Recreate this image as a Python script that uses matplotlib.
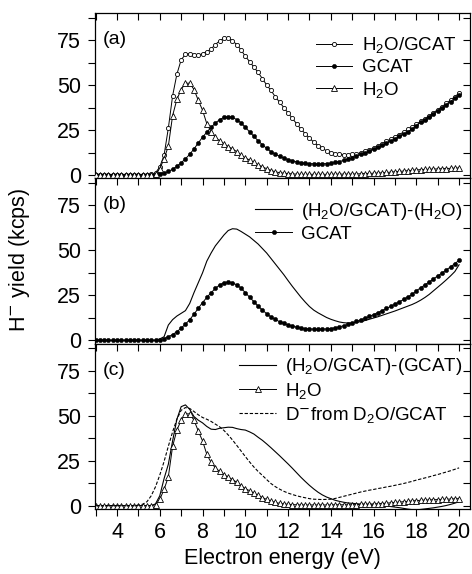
import numpy as np
import matplotlib
matplotlib.use("Agg")
import matplotlib.pyplot as plt
from matplotlib.ticker import MultipleLocator

plt.rcParams['font.family'] = ['Liberation Sans', 'DejaVu Sans']
plt.rcParams['mathtext.fontset'] = 'custom'
plt.rcParams['mathtext.rm'] = 'Liberation Sans'
plt.rcParams['mathtext.it'] = 'Liberation Sans:italic'
plt.rcParams['mathtext.bf'] = 'Liberation Sans:bold'

energy = [3.0, 3.2, 3.4, 3.6, 3.8, 4.0, 4.2, 4.4, 4.6, 4.8,
          5.0, 5.2, 5.4, 5.6, 5.8, 6.0, 6.2, 6.4, 6.6, 6.8,
          7.0, 7.2, 7.4, 7.6, 7.8, 8.0, 8.2, 8.4, 8.6, 8.8,
          9.0, 9.2, 9.4, 9.6, 9.8, 10.0, 10.2, 10.4, 10.6, 10.8,
          11.0, 11.2, 11.4, 11.6, 11.8, 12.0, 12.2, 12.4, 12.6, 12.8,
          13.0, 13.2, 13.4, 13.6, 13.8, 14.0, 14.2, 14.4, 14.6, 14.8,
          15.0, 15.2, 15.4, 15.6, 15.8, 16.0, 16.2, 16.4, 16.6, 16.8,
          17.0, 17.2, 17.4, 17.6, 17.8, 18.0, 18.2, 18.4, 18.6, 18.8,
          19.0, 19.2, 19.4, 19.6, 19.8, 20.0]

h2o_gcat = [0, 0, 0, 0, 0, 0, 0, 0, 0, 0,
            0, 0, 0, 0.3, 1.2, 4.5, 11, 26, 44, 56,
            64, 67, 67.5, 66.8, 66.5, 67.5, 68.5, 70, 72.5, 74.5,
            76, 76, 74.5, 72.5, 69.5, 66, 63, 60, 57, 53.5,
            50, 47, 43.5, 40.5, 37.5, 34.5, 31.5, 28.5, 25.5, 23,
            20.5, 18.3, 16.3, 14.8, 13.5, 12.4, 11.8, 11.4, 11.2, 11.2,
            11.4, 11.8, 12.4, 13.2, 14, 15, 16.2, 17.5, 18.8, 20,
            21.3, 22.5, 23.8, 25.3, 26.8, 28.3, 29.8, 31.3, 33, 34.6,
            36.3, 38, 39.8, 41.6, 43.5, 45.5]

gcat = [0, 0, 0, 0, 0, 0, 0, 0, 0, 0,
        0, 0, 0, 0, 0, 0.4, 1.0, 2.0, 3.2, 4.8,
        6.8, 9.0, 11.5, 14.5, 17.8, 21, 23.8, 26.5, 28.8, 30.8,
        32, 32.4, 32, 30.8, 29, 26.5, 24, 21.5, 19, 16.8,
        14.8, 13, 11.6, 10.4, 9.4, 8.6, 7.9, 7.3, 6.8, 6.5,
        6.3, 6.2, 6.1, 6.2, 6.3, 6.5, 7.0, 7.5, 8.1, 8.8,
        9.6, 10.5, 11.4, 12.3, 13.3, 14.3, 15.4, 16.5, 17.7, 18.9,
        20.1, 21.4, 22.7, 24.1, 25.5, 27.5, 29.2, 30.8, 32.4, 34.1,
        35.8, 37.4, 39.1, 40.8, 42.6, 44.5]

h2o = [0, 0, 0, 0, 0, 0, 0, 0, 0, 0,
       0, 0, 0, 0, 0.5, 3.5, 9, 16, 33, 42,
       47.5, 51, 51, 47.5, 41.5, 36, 28.5, 24, 21, 19,
       17.3, 15.8, 14.5, 13, 11, 9.5, 8.3, 7, 5.7, 4.5,
       3.5, 2.5, 1.8, 1.3, 1.0, 0.8, 0.6, 0.5, 0.4, 0.4,
       0.4, 0.4, 0.4, 0.4, 0.4, 0.4, 0.5, 0.5, 0.5, 0.5,
       0.5, 0.6, 0.7, 0.8, 0.9, 1.0, 1.1, 1.2, 1.4, 1.6,
       1.8, 2.0, 2.2, 2.4, 2.6, 2.8, 3.0, 3.1, 3.2, 3.3,
       3.4, 3.5, 3.6, 3.7, 3.8, 3.9]

diff_minus_h2o = [0, 0, 0, 0, 0, 0, 0, 0, 0, 0,
                  0, 0, 0, 0, 0, 0.8, 2.0, 8.5, 11.5, 13.5,
                  15, 16.5, 20.5, 26.5, 32, 37.5, 44, 48.5, 52.5, 55.5,
                  58.5, 61, 62, 61.8, 60.5, 59, 57.5, 55.5, 53.5, 51,
                  48.5, 45.5, 42.5, 39.5, 36.5, 33.2, 30, 27, 24, 21.3,
                  18.8, 16.8, 15.3, 14, 12.7, 11.7, 10.9, 10.2, 9.8, 9.6,
                  9.7, 10, 10.4, 11, 11.7, 12.4, 13.1, 13.9, 14.7, 15.5,
                  16.3, 17.2, 18.1, 19.0, 19.9, 21, 22.3, 23.8, 25.5, 27.5,
                  29.5, 31.5, 33.6, 35.8, 38.2, 42]

diff_minus_gcat = [0, 0, 0, 0, 0, 0, 0, 0, 0, 0,
                   0, 0, 0, 0, 1, 5.5, 15, 23, 36, 48,
                   55, 56, 53.5, 49.5, 47.5, 46, 44, 42.5, 42.3, 43,
                   43.3, 43.6, 43.5, 42.8, 42.3, 42, 41, 39.8, 38, 36.3,
                   34.3, 32.2, 30, 27.8, 25.5, 23.2, 20.8, 18.3, 15.8, 13.5,
                   11.3, 9.3, 7.5, 6.0, 4.8, 3.9, 3.0, 2.4, 1.9, 1.5,
                   1.3, 1.1, 0.9, 0.8, 0.6, 0.4, 0.2, 0, -0.2, -0.5,
                   -0.8, -1.1, -1.5, -1.9, -2.2, -2.3, -2.1, -1.8, -1.5, -1.2,
                   -0.8, -0.4, 0.1, 0.7, 1.4, 2.2]

d_from_d2o = [0, 0, 0, 0, 0, 0, 0, 0, 0, 0,
              0.3, 0.8, 2.2, 5.5, 10.5, 17, 24.5, 33, 41, 48,
              53, 54.5, 54, 52.3, 50.5, 49, 48, 46.8, 45.3, 43.8,
              41.8, 39.3, 36.5, 33.5, 30.4, 27.3, 24.3, 21.5, 19, 16.8,
              14.5, 12.3, 10.6, 9.2, 8, 7, 6.2, 5.5, 4.9, 4.4,
              3.9, 3.6, 3.5, 3.4, 3.5, 3.6, 4.0, 4.6, 5.2, 5.8,
              6.4, 7.0, 7.6, 8.1, 8.6, 9.0, 9.5, 9.9, 10.4, 10.8,
              11.3, 11.8, 12.3, 12.9, 13.5, 14.2, 14.8, 15.4, 16, 16.7,
              17.3, 18, 18.7, 19.4, 20.2, 21]

panel_labels = ['(a)', '(b)', '(c)']
yticks = [0, 25, 50, 75]
xticks = [4, 6, 8, 10, 12, 14, 16, 18, 20]

FS_TICK = 15.5
FS_LAB = 15.5
FS_LEG = 13.5
FS_PANEL = 14
W, H = 472, 574
fig = plt.figure(figsize=(W / 100, H / 100), dpi=100)

left = 95 / W
width = (470 - 95) / W
top_px, bot_px = 13, 509
ph = (bot_px - top_px) / 3
axes = []
for i in range(3):
    y0 = (H - (top_px + ph * (i + 1))) / H
    ax = fig.add_axes([left, y0, width, ph / H])
    axes.append(ax)

lw = 0.8
circle_kw = dict(color='black', lw=0.7, marker='o', markersize=3.0,
                 markerfacecolor='white', markeredgecolor='black', markeredgewidth=0.6)
dot_kw = dict(color='black', lw=0.7, marker='o', markersize=3.0,
              markerfacecolor='black', markeredgecolor='black', markeredgewidth=0.4)
tri_kw = dict(color='black', lw=0.7, marker='^', markersize=4.4,
              markerfacecolor='white', markeredgecolor='black', markeredgewidth=0.6)

ax = axes[0]
ax.plot(energy, h2o_gcat, label='H$_2$O/GCAT', zorder=3, **circle_kw)
ax.plot(energy, gcat, label='GCAT', zorder=4, **dot_kw)
ax.plot(energy, h2o, label='H$_2$O', zorder=5, **tri_kw)

ax = axes[1]
ax.plot(energy, diff_minus_h2o, color='black', lw=lw, label='(H$_2$O/GCAT)-(H$_2$O)')
ax.plot(energy, gcat, label='GCAT', **dot_kw)

ax = axes[2]
ax.plot(energy, diff_minus_gcat, color='black', lw=lw, label='(H$_2$O/GCAT)-(GCAT)')
ax.plot(energy, h2o, label='H$_2$O', **tri_kw)
ax.plot(energy, d_from_d2o, color='black', lw=0.8, ls=(0, (3, 1.6)),
        label='D$^{\\mathsf{-}}$from D$_2$O/GCAT')

for i, ax in enumerate(axes):
    ax.set_xlim(2.97, 20.51)
    ax.set_ylim(-1.85, 90)
    ax.set_yticks(yticks)
    ax.yaxis.set_minor_locator(MultipleLocator(12.5))
    ax.set_xticks(xticks)
    ax.xaxis.set_minor_locator(MultipleLocator(1))
    ax.tick_params(axis='both', which='both', labelsize=FS_TICK, width=0.8)
    ax.tick_params(axis='x', which='both', top=True, bottom=True, length=5)
    ax.tick_params(axis='y', which='both', left=True, right=True, length=5, pad=5)
    ax.tick_params(axis='x', which='major', pad=4)
    for sp in ax.spines.values():
        sp.set_linewidth(0.9)
    if i < 2:
        ax.tick_params(axis='x', labelbottom=False)
    for t in ax.xaxis.get_major_ticks() + ax.xaxis.get_minor_ticks():
        t.tick1line.set_marker(3)
        t.tick2line.set_marker(3)
    for t in ax.yaxis.get_major_ticks() + ax.yaxis.get_minor_ticks():
        t.tick1line.set_marker(0)
        t.tick2line.set_marker(0)
    ax.text(0.02, 0.84, panel_labels[i], transform=ax.transAxes, fontsize=FS_PANEL,
            ha='left', va='center')

axes[2].set_xlabel('Electron energy (eV)', fontsize=FS_LAB, labelpad=4)

axes[0].legend(loc='upper right', frameon=False, fontsize=FS_LEG, handlelength=1.9,
               handletextpad=0.55, labelspacing=0.2, borderaxespad=0.0,
               numpoints=1, bbox_to_anchor=(0.985, 0.91))
axes[1].legend(loc='upper right', frameon=False, fontsize=FS_LEG, handlelength=2.0,
               handletextpad=0.45, labelspacing=0.2, borderaxespad=0.0,
               numpoints=1, bbox_to_anchor=(1.0, 0.91))
axes[2].legend(loc='upper right', frameon=False, fontsize=FS_LEG, handlelength=2.0,
               handletextpad=0.45, labelspacing=0.2, borderaxespad=0.0,
               numpoints=1, bbox_to_anchor=(1.0, 0.97))

fig.text(20 / W, 1 - 260 / H, 'H$^{\\mathsf{-}}$ yield (kcps)', rotation=90,
         fontsize=FS_LAB, ha='center', va='center')

fig.savefig('out.png', dpi=100)
